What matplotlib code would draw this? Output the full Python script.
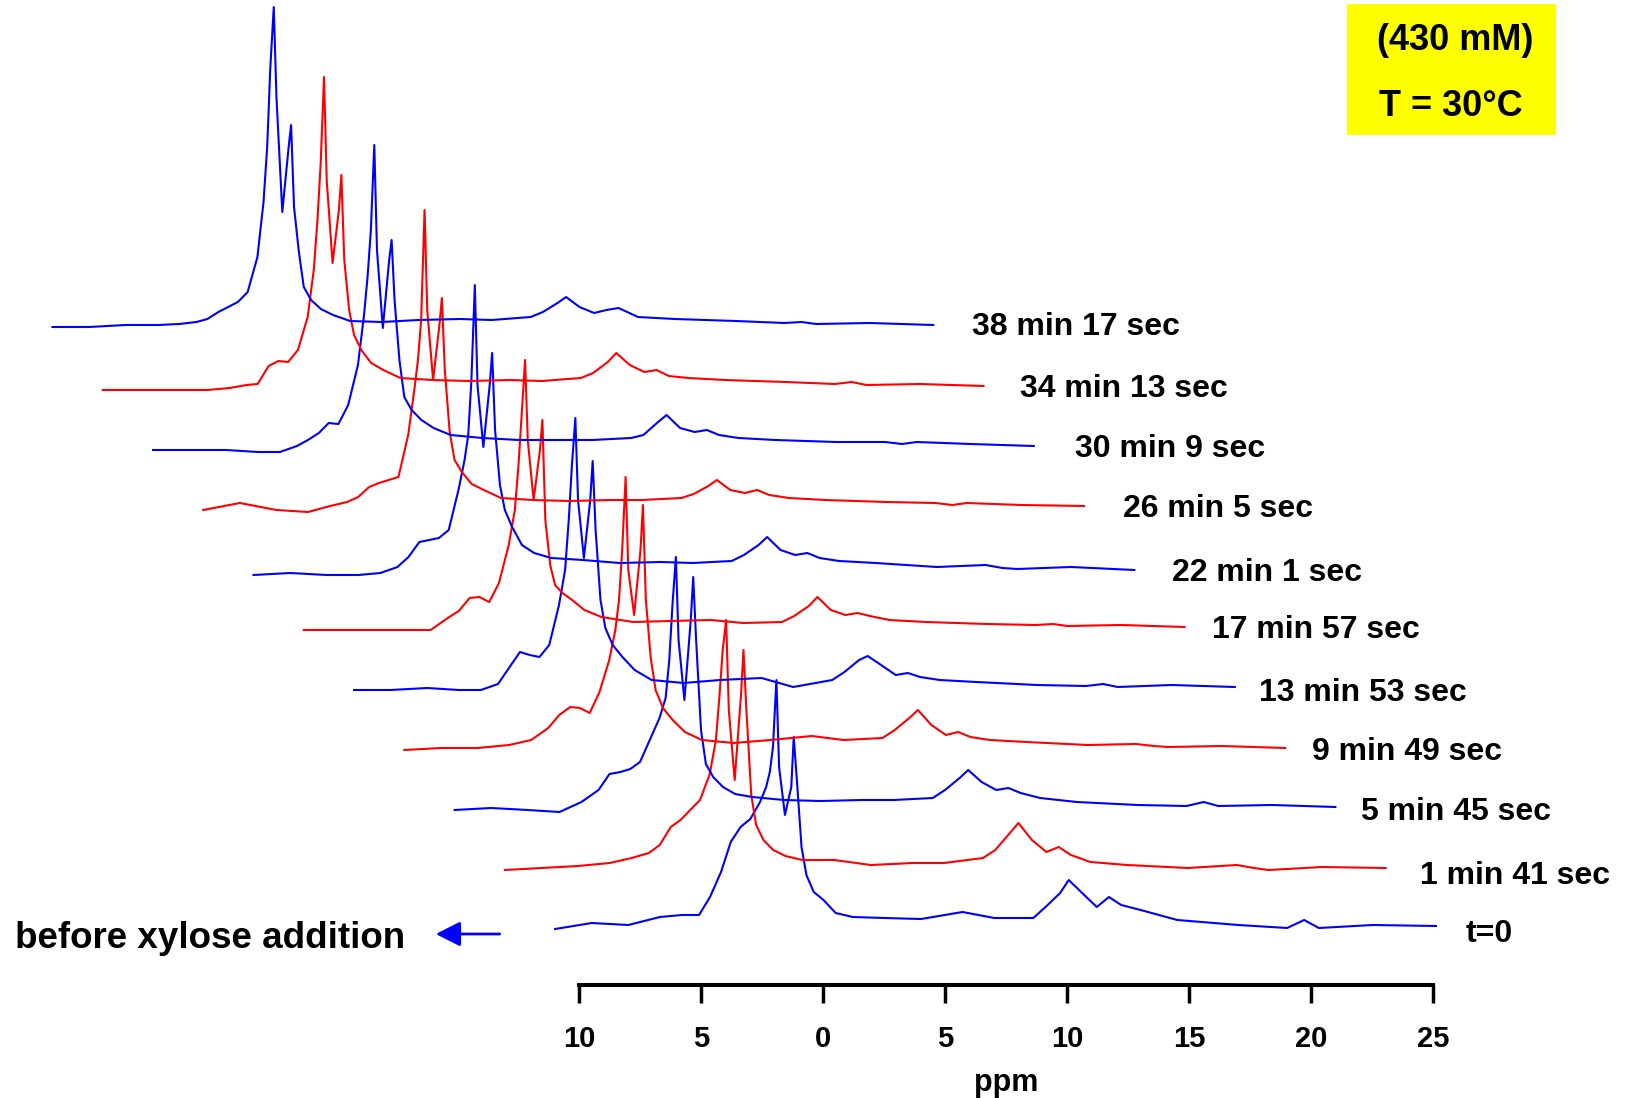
import numpy as np
import matplotlib
matplotlib.use("Agg")
import matplotlib.pyplot as plt
from matplotlib.patches import Rectangle
from matplotlib.ticker import FuncFormatter

plt.rcParams['font.family'] = ['Liberation Sans', 'DejaVu Sans']
plt.rcParams['font.weight'] = 'bold'

# %% data: chemical shift grid (ppm, on each spectrum's own axis)
ppm = [11.0, 9.5, 8.0, 6.7, 5.8, 5.1, 4.65, 4.2, 3.8, 3.4, 3.0, 2.6, 2.35, 2.2,
       2.07, 1.93, 1.82, 1.58, 1.32, 1.22, 1.1, 0.9, 0.7, 0.4, 0.0, -0.5, -1.2,
       -2.5, -4.0, -5.7, -7.0, -8.6, -9.1, -9.7, -10.05, -10.6, -11.2, -11.7,
       -12.2, -13.0, -14.5, -17.0, -19.0, -19.7, -20.3, -22.5, -25.1]

# intensity above baseline (arbitrary units), one spectrum per acquisition
t_0 = [-2, 4, 2, 10, 12, 12, 30, 55, 85, 100, 108, 125, 140, 155, 180, 247, 160, 112, 140, 190,
       150, 80, 52, 35, 27, 14, 10, 9, 8, 15, 9, 9, 20, 34, 47, 34, 20, 30, 22, 17, 7, 2, -1, 7, -1, 2, 1]
t_1m41 = [0, 2, 4, 7, 12, 17, 25, 43, 50, 60, 70, 96, 130, 175, 220, 250, 160, 90, 175, 220,
          160, 75, 45, 30, 20, 14, 10, 10, 5, 7, 7, 12, 20, 37, 47, 30, 18, 23, 15, 8, 5, 2, 5, 2, 0, 3, 2]
t_5m45 = [0, 2, 0, -2, 8, 20, 36, 38, 41, 48, 70, 92, 112, 150, 205, 253, 170, 110, 190, 233,
          170, 80, 46, 33, 23, 16, 13, 10, 9, 10, 10, 12, 20, 32, 40, 28, 20, 22, 17, 12, 8, 5, 4, 8, 4, 5, 3]
t_9m49 = [0, 2, 2, 5, 10, 22, 35, 43, 42, 37, 58, 90, 120, 150, 200, 273, 180, 135, 200, 245,
          150, 92, 60, 42, 30, 18, 10, 7, 10, 14, 10, 12, 20, 32, 40, 25, 15, 18, 13, 10, 8, 5, 6, 4, 3, 4, 2]
t_13m53 = [0, 0, 2, 0, 0, 6, 22, 38, 35, 33, 45, 85, 120, 170, 225, 272, 190, 132, 190, 229,
           160, 90, 62, 45, 33, 20, 10, 7, 10, 12, 3, 10, 18, 30, 34, 25, 15, 17, 13, 10, 8, 5, 4, 6, 3, 5, 3]
t_17m57 = [0, 0, 0, 0, 0, 12, 19, 32, 33, 28, 47, 85, 120, 165, 215, 270, 190, 130, 180, 210,
           110, 65, 45, 37, 30, 20, 13, 8, 9, 10, 7, 8, 14, 24, 33, 20, 15, 17, 14, 10, 8, 6, 5, 6, 4, 5, 3]
t_22m1 = [0, 2, 0, 0, 2, 8, 18, 33, 35, 37, 45, 85, 115, 140, 195, 290, 190, 128, 190, 222,
          145, 90, 65, 48, 30, 22, 17, 15, 12, 13, 12, 14, 20, 30, 38, 25, 20, 22, 17, 14, 12, 8, 10, 7, 6, 8, 5]
t_26m5 = [0, 7, 0, -2, 4, 8, 13, 23, 27, 30, 33, 75, 120, 150, 190, 300, 200, 130, 185, 212,
          140, 78, 50, 38, 26, 20, 12, 10, 9, 10, 10, 12, 16, 24, 30, 20, 17, 20, 15, 12, 10, 8, 7, 5, 7, 5, 4]
t_30m9 = [0, 0, 0, -2, -2, 4, 10, 17, 27, 26, 45, 85, 135, 175, 220, 305, 200, 122, 190, 210,
          150, 90, 53, 40, 30, 22, 15, 12, 10, 10, 10, 12, 15, 28, 35, 22, 18, 20, 15, 12, 10, 8, 8, 6, 8, 6, 4]
t_34m13 = [0, 0, 0, 0, 2, 5, 6, 24, 29, 28, 40, 73, 120, 170, 225, 313, 210, 127, 180, 215,
           130, 80, 55, 40, 27, 20, 12, 10, 9, 10, 9, 12, 17, 28, 37, 25, 18, 20, 14, 12, 10, 8, 6, 8, 5, 6, 4]
t_38m17 = [0, 0, 2, 2, 3, 5, 8, 15, 20, 25, 35, 70, 125, 180, 260, 320, 230, 115, 180, 202,
           120, 75, 40, 27, 18, 12, 6, 5, 7, 8, 7, 10, 15, 24, 30, 20, 14, 17, 19, 10, 8, 6, 4, 5, 3, 4, 2]

spectra = [t_0, t_1m41, t_5m45, t_9m49, t_13m53, t_17m57,
           t_22m1, t_26m5, t_30m9, t_34m13, t_38m17]
labels = ['t=0', '1 min 41 sec', '5 min 45 sec', '9 min 49 sec', '13 min 53 sec',
          '17 min 57 sec', '22 min 1 sec', '26 min 5 sec', '30 min 9 sec',
          '34 min 13 sec', '38 min 17 sec']
colors = ['#0000FF', '#FF0000'] * 6

# %% layout of the stack
SHIFT_PPM = 2.06                                                  # left shift per spectrum
y_offset = [0, 57, 117, 177, 237, 297, 352, 417, 477, 537, 600]  # baseline of each spectrum
label_y = [-7, 51, 115, 175, 234, 297, 354, 418, 478, 538, 600]
label_gap = [30, 34, 26, 27, 24, 27, 38, 39, 41, 36, 39]           # px after trace end

# %% figure
fig = plt.figure(figsize=(16.26, 10.98), dpi=100)
ax = fig.add_axes([0, 0, 1, 1])
ax.set_xlim(33.75, -32.89)
ax.set_ylim(-171, 927)

for k, (spec, col, lab) in enumerate(zip(spectra, colors, labels)):
    x = np.array(ppm) + SHIFT_PPM * k
    y = np.array(spec) + y_offset[k]
    ax.plot(x, y, color=col, lw=1.5, solid_joinstyle='round')
    ax.annotate(lab, xy=(x[-1], label_y[k]), xytext=(label_gap[k] * 0.72, 0),
                textcoords='offset points', ha='left', va='center', fontsize=23)

# bottom ppm axis (only the t=0 spectrum sits on it)
for s in ['top', 'right', 'left']:
    ax.spines[s].set_visible(False)
ax.spines['bottom'].set_position(('data', -58))
ax.spines['bottom'].set_bounds(-25, 10)
ax.spines['bottom'].set_linewidth(2.9)
ax.set_xticks([10, 5, 0, -5, -10, -15, -20, -25])
ax.xaxis.set_major_formatter(FuncFormatter(lambda v, p: f'{abs(v):g}'))
ax.tick_params(axis='x', direction='out', length=13, width=2.5, pad=16, labelsize=21)
ax.set_yticks([])
ax.text(-7.5, 927 - 1083, 'ppm', ha='center', va='center', fontsize=22)

# annotation for the reference spectrum
ax.text(33.12, -11, 'before xylose addition', ha='left', va='center', fontsize=26.5)
ax.annotate('', xy=(15.89, -7), xytext=(13.27, -7),
            arrowprops=dict(arrowstyle='-|>,head_length=0.75,head_width=0.38',
                            mutation_scale=20, color='#0000FF', lw=2,
                            shrinkA=0, shrinkB=0))

# conditions box
W, H = 1626, 1098
fig.add_artist(Rectangle((1347 / W, 1 - 135 / H), 209 / W, 131 / H,
                         transform=fig.transFigure, facecolor='#FFFF00', edgecolor='none'))
fig.text(1455 / W, 1 - 40 / H, '(430 mM)', ha='center', va='center', fontsize=26)
fig.text(1451 / W, 1 - 107 / H, 'T = 30\u00b0C', ha='center', va='center', fontsize=26)

fig.savefig('out.png', dpi=100)
